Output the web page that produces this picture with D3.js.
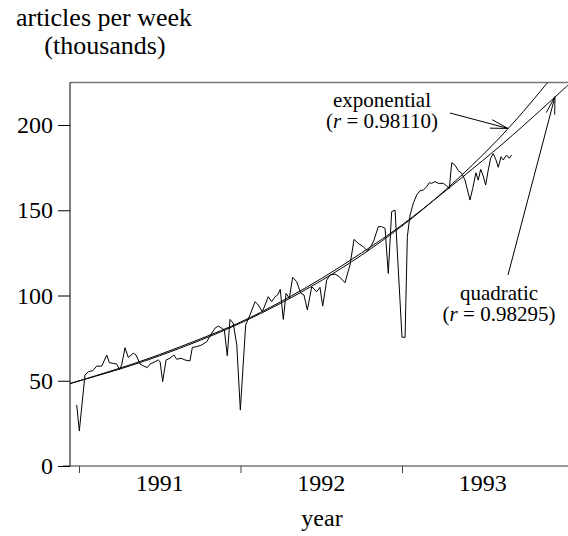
<!DOCTYPE html>
<html>
<head>
<meta charset="utf-8">
<script src="https://cdn.jsdelivr.net/npm/d3@7"></script>
<style>
body { margin: 0; background: #fff; }
text { font-family: "Liberation Serif", "Times New Roman", serif; fill: #000; }
</style>
</head>
<body>
<svg id="chart"></svg>
<script>
// weekly articles (thousands), dates as decimal years
const weeks = [1990.986, 1991.002, 1991.037, 1991.058, 1991.085, 1991.110, 1991.141, 1991.172, 1991.188, 1991.212,
  1991.233, 1991.250, 1991.264, 1991.285, 1991.305, 1991.336, 1991.353, 1991.378, 1991.402, 1991.423,
  1991.440, 1991.471, 1991.491, 1991.502, 1991.518, 1991.539, 1991.563, 1991.588, 1991.605, 1991.632,
  1991.656, 1991.687, 1991.702, 1991.729, 1991.760, 1991.791, 1991.811, 1991.842, 1991.863, 1991.884,
  1991.900, 1991.918, 1991.935, 1991.955, 1991.977, 1991.999, 1992.032, 1992.059, 1992.090, 1992.110,
  1992.135, 1992.152, 1992.172, 1992.193, 1992.214, 1992.230, 1992.246, 1992.265, 1992.282, 1992.302,
  1992.323, 1992.348, 1992.373, 1992.393, 1992.414, 1992.441, 1992.472, 1992.492, 1992.509, 1992.534,
  1992.554, 1992.585, 1992.612, 1992.647, 1992.678, 1992.703, 1992.729, 1992.760, 1992.785, 1992.812,
  1992.827, 1992.853, 1992.874, 1992.895, 1992.915, 1992.936, 1992.957, 1993.000, 1993.019, 1993.033,
  1993.050, 1993.070, 1993.091, 1993.112, 1993.132, 1993.153, 1993.169, 1993.184, 1993.204, 1993.225,
  1993.256, 1993.277, 1993.293, 1993.308, 1993.328, 1993.349, 1993.370, 1993.390, 1993.421, 1993.438,
  1993.458, 1993.472, 1993.487, 1993.503, 1993.518, 1993.534, 1993.549, 1993.565, 1993.582, 1993.596,
  1993.613, 1993.627, 1993.648, 1993.664, 1993.679]
const articles = [35.8, 20.5, 53.4, 55.3, 55.9, 58.6, 58.6, 65.1, 60.6, 60.2,
  59.8, 56.7, 59.2, 69.4, 63.7, 66.1, 65.1, 59.8, 58.6, 57.7,
  59.8, 61.2, 62.2, 61.2, 49.5, 62.2, 63.2, 65.1, 62.6, 63.2,
  62.2, 61.6, 69.6, 70.0, 71.0, 72.9, 76.2, 80.8, 82.1, 80.8,
  79.8, 64.7, 86.0, 83.7, 71.0, 32.8, 82.7, 88.6, 96.4, 94.4,
  90.5, 94.4, 99.3, 96.4, 99.3, 100.3, 103.6, 86.0, 101.3, 98.4,
  110.7, 108.1, 101.3, 100.3, 91.5, 105.2, 102.2, 104.8, 93.8, 109.1,
  112.0, 112.6, 111.0, 107.5, 117.9, 132.9, 130.6, 128.6, 126.3, 129.6,
  132.6, 140.4, 140.4, 139.4, 113.0, 149.2, 150.1, 75.5, 75.5, 134.5,
  147.2, 154.1, 159.0, 161.5, 161.9, 163.8, 166.2, 165.8, 166.8, 165.8,
  165.8, 164.2, 162.9, 177.9, 176.5, 173.2, 171.7, 167.7, 156.0, 162.9,
  172.0, 167.7, 174.0, 170.1, 164.8, 173.6, 180.5, 183.3, 179.5, 175.2,
  181.4, 179.5, 182.4, 180.5, 182.4]

// fitted curves
const fitYears = [1990.944, 1991.25, 1991.5, 1991.75, 1992, 1992.25, 1992.5, 1992.75, 1993, 1993.25, 1993.5, 1993.75, 1994, 1994.03]
const expFit = [48.4, 56.8, 64.7, 73.7, 83.8, 95.5, 108.7, 123.7, 140.8, 160.3, 182.5, 207.8, 236.5, 240.5]
const quadFit = [48.3, 57.3, 65.4, 74.5, 84.4, 96.4, 109.9, 125.0, 141.4, 159.9, 179.2, 199.5, 221.0, 223.6]

const yTicks = [0, 50, 100, 150, 200]
const yearTicks = [1991, 1992, 1993]

const width = 568
const height = 536
const plotLeft = 70
const plotRight = 568
const plotTop = 82.4
const plotBottom = 466

const svg = d3.select('#chart')
  .attr('width', width)
  .attr('height', height)

const xScale = d3.scaleLinear()
  .domain([1991 - 9 / 161.5, 1991 + (plotRight - 79) / 161.5])
  .range([plotLeft, plotRight])

const yScale = d3.scaleLinear()
  .domain([0, 225])
  .range([plotBottom, plotTop])

svg.append('clipPath').attr('id', 'plot')
  .append('rect')
  .attr('x', plotLeft).attr('y', plotTop)
  .attr('width', plotRight - plotLeft).attr('height', plotBottom - plotTop)

// frame: gray top and bottom rules
svg.append('line')
  .attr('x1', plotLeft).attr('x2', plotRight)
  .attr('y1', plotTop).attr('y2', plotTop)
  .attr('stroke', '#777').attr('stroke-width', 1.5)
svg.append('line')
  .attr('x1', 63).attr('x2', plotRight)
  .attr('y1', plotBottom).attr('y2', plotBottom)
  .attr('stroke', '#777').attr('stroke-width', 1.5)

// y axis
const yAxis = d3.axisLeft(yScale).tickValues(yTicks).tickSize(12).tickPadding(5)
const gy = svg.append('g').attr('transform', 'translate(' + plotLeft + ',0)').call(yAxis)
gy.select('.domain').attr('d', 'M0,' + plotTop + 'V' + plotBottom).attr('stroke', '#000')
gy.selectAll('.tick line').attr('stroke', '#000')
gy.selectAll('.tick text').style('font-size', '24px').style('font-family', '"Liberation Serif", serif').attr('fill', '#000')

// x axis: ticks at year starts, labels mid-year
const xAxis = d3.axisBottom(xScale).tickValues(yearTicks).tickSize(7).tickFormat('')
const gx = svg.append('g').attr('transform', 'translate(0,' + plotBottom + ')').call(xAxis)
gx.select('.domain').remove()
gx.selectAll('.tick line').attr('stroke', '#444')

svg.selectAll('.year-label')
  .data(yearTicks)
  .enter()
  .append('text')
  .attr('class', 'year-label')
  .attr('x', d => xScale(d + 0.5))
  .attr('y', 491)
  .attr('text-anchor', 'middle')
  .style('font-size', '24px')
  .text(d => d)

// axis titles
svg.append('text').attr('x', 104).attr('y', 26).attr('text-anchor', 'middle')
  .style('font-size', '26px').text('articles per week')
svg.append('text').attr('x', 105).attr('y', 54).attr('text-anchor', 'middle')
  .style('font-size', '26px').text('(thousands)')
svg.append('text').attr('x', 322).attr('y', 526).attr('text-anchor', 'middle')
  .style('font-size', '24px').text('year')

const plot = svg.append('g').attr('clip-path', 'url(#plot)')

const line = d3.line()
  .x(d => xScale(d[0]))
  .y(d => yScale(d[1]))

plot.append('path')
  .datum(d3.zip(fitYears, expFit))
  .attr('d', line.curve(d3.curveNatural))
  .attr('fill', 'none').attr('stroke', '#000').attr('stroke-width', 1)

plot.append('path')
  .datum(d3.zip(fitYears, quadFit))
  .attr('d', line.curve(d3.curveNatural))
  .attr('fill', 'none').attr('stroke', '#000').attr('stroke-width', 1)

plot.append('path')
  .datum(d3.zip(weeks, articles))
  .attr('d', line.curve(d3.curveLinear))
  .attr('fill', 'none').attr('stroke', '#000').attr('stroke-width', 1)

// annotation arrows
function arrow(x1, y1, x2, y2) {
  const a = Math.atan2(y1 - y2, x1 - x2)
  const len = 18
  const spread = 14 * Math.PI / 180
  svg.append('path')
    .attr('d', 'M' + x1 + ',' + y1 + 'L' + x2 + ',' + y2 +
      'M' + (x2 + len * Math.cos(a + spread)) + ',' + (y2 + len * Math.sin(a + spread)) +
      'L' + x2 + ',' + y2 +
      'L' + (x2 + len * Math.cos(a - spread)) + ',' + (y2 + len * Math.sin(a - spread)))
    .attr('fill', 'none').attr('stroke', '#000').attr('stroke-width', 1)
}
arrow(450, 113, xScale(1993.656), yScale(198))
arrow(508, 275, xScale(1993.947), yScale(216.6))

function label(x, y, name, r) {
  svg.append('text').attr('x', x).attr('y', y).attr('text-anchor', 'middle')
    .style('font-size', '21px').text(name)
  const t = svg.append('text').attr('x', x).attr('y', y + 21).attr('text-anchor', 'middle')
    .style('font-size', '21px')
  t.append('tspan').text('(')
  t.append('tspan').style('font-style', 'italic').text('r')
  t.append('tspan').text(' = ' + r + ')')
}
label(382, 107, 'exponential', '0.98110')
label(499, 300, 'quadratic', '0.98295')
</script>
</body>
</html>
